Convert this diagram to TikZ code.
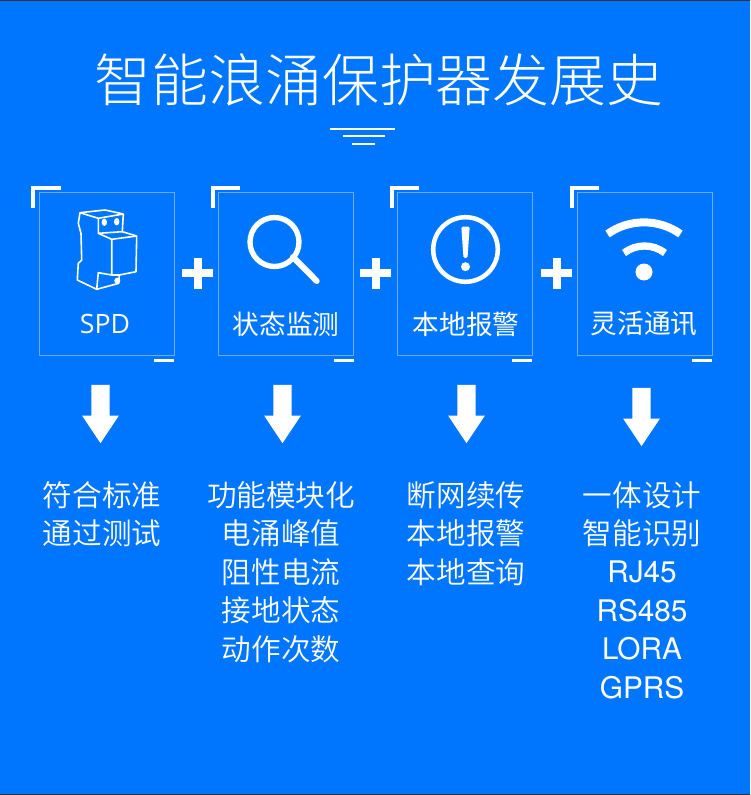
\documentclass[tikz,border=0pt]{standalone}
\usepackage{fontspec}
\setmainfont{Open Sans}
\newfontfamily\cjk{Noto Sans CJK SC Light}
\newfontfamily\cjkdemi{Noto Sans CJK SC DemiLight}
\newfontfamily\cjkreg{Noto Sans CJK SC}
\newfontfamily\latinlist{TeX Gyre Heros}
\usetikzlibrary{positioning}
\usetikzlibrary{shapes.arrows}
\usetikzlibrary{calc}
\definecolor{bgblue}{HTML}{0076FF}
\definecolor{boxline}{HTML}{66ACFF}
\tikzset{
    x=0.75pt,y=-0.75pt,
    titletext/.style={text=white,font=\fontsize{42.7}{50}\selectfont\cjk},
    cardbox/.style={draw=boxline,line width=0.75pt,minimum width=101.5pt,minimum height=122.2pt,inner sep=0pt},
    cardlabel/.style={text=white,inner sep=0pt,font=\fontsize{20}{24}\selectfont\cjkreg},
    listtext/.style={text=white,align=center,inner sep=0pt,font=\fontsize{22.2}{28.85}\selectfont\cjkdemi},
    downarrow/.style={shape=single arrow,fill=white,rotate=-90,inner xsep=0pt,inner ysep=6.6pt,outer sep=0pt,
        minimum height=43.7pt,minimum width=27.3pt,single arrow head extend=7pt,
        single arrow tip angle=67.4},
    plusbar/.style={draw=white,line width=6pt},
    markbar/.style={draw=white,line width=3pt},
    dashbar/.style={draw=white,line width=2.25pt},
    iconline/.style={draw=white,line width=1.2pt,line join=round}
}
\newcommand{\plussign}[1]{\draw[plusbar] ($(#1)+(-15.5,0)$) -- ++(31,0) ($(#1)+(0,-15.5)$) -- ++(0,31);}
\newcommand{\latinline}[1]{{\fontsize{22.3}{28.85}\selectfont\latinlist #1}}
\begin{document}
\begin{tikzpicture}
    \useasboundingbox[fill=bgblue] (0,0) rectangle (750,795);
    \fill[black!80] (0,0) rectangle (750,1) (0,794) rectangle (750,795);

    \node (title) [titletext] at (379,80) {智能浪涌保护器发展史};
    \draw[white,line width=1.5pt] (330,129) -- (395,129) (343,136) -- (385,136) (352,144) -- (375,144);

    % the four cards
    \node (spd)   [cardbox] at (106.8,273.8) {};
    \node (watch) [cardbox] at (286.3,273.8) {};
    \node (alarm) [cardbox] at (465,273.8) {};
    \node (comm)  [cardbox] at (645,273.8) {};

    \foreach \card in {spd,watch,alarm,comm} {
        \draw[markbar] ($(\card.north west)+(-5.3,16)$) -- ++(0,-20.3) -- ++(27.3,0);
        \draw[dashbar] ($(\card.south east)+(-20.7,5)$) -- ++(20,0);
    }

    \node (spdlabel)   [cardlabel] at (105,324) {\fontspec{Open Sans}SPD};
    \node (watchlabel) [cardlabel] at (286,324) {状态监测};
    \node (alarmlabel) [cardlabel] at (466,324) {本地报警};
    \node (commlabel)  [cardlabel] at (644,324) {灵活通讯};

    \plussign{197.5,273}
    \plussign{375.5,273}
    \plussign{556.5,273}

    % surge protector
    \draw[iconline] (80,212.7) -- (105,210) -- (123.3,214) -- (122.3,231.7) -- (136.7,236) -- (136,271.7) -- (119.3,275) -- (118.7,283.3) -- (96.7,289.3) -- (77.3,280) -- (78.3,263.3) -- (81.7,260) -- (81,233.3) -- (78.3,223.3) -- cycle;
    \draw[iconline] (80,212.7) -- (98.3,218.3) -- (123.3,214) (98.3,218.3) -- (98.3,233.3) -- (122.3,231.7) (98.3,233.3) -- (111.7,239.3) -- (136.7,236) (111.7,239.3) -- (111.7,275) -- (119.3,275) (111.7,275) -- (98.3,272.7) -- (96.7,289.3);
    \fill[white] (104.3,222.3) ellipse (2.7 and 3.7) (116.7,221.7) ellipse (2.7 and 3.7) (117.3,280.7) circle (3);

    % magnifier
    \draw[white,line width=4pt] (274.5,242) circle (24.5);
    \draw[white,line width=4.5pt,line cap=round] (293,257) -- (316.7,281);

    % exclamation mark
    \draw[white,line width=3.4pt] (465.5,249.5) circle (32.3);
    \fill[white,rounded corners=1pt] (461.3,226.7) -- (469.7,226.7) -- (467.5,258) -- (463.5,258) -- cycle;
    \fill[white] (465.5,266.7) circle (4.5);

    % wifi
    \fill[white] (644,272) circle (8.5);
    \draw[white,line width=6pt] (607.5,234) arc (-125.4:-54.6:63);
    \draw[white,line width=5.5pt] (624,253) arc (-127.7:-52.3:33.5);

    \node (arrowa) [downarrow] at (100.5,407.2) {};
    \node (arrowb) [downarrow] at (282.5,407.2) {};
    \node (arrowc) [downarrow] at (466.5,407.2) {};
    \node (arrowd) [downarrow] at (641.5,410.2) {};

    \node (lista) [listtext,anchor=north] at (102,481) {符合标准\\通过测试};
    \node (listb) [listtext,anchor=north] at (281,481) {功能模块化\\电涌峰值\\阻性电流\\接地状态\\动作次数};
    \node (listc) [listtext,anchor=north] at (466,481) {断网续传\\本地报警\\本地查询};
    \node (listd) [listtext,anchor=north] at (642,481) {一体设计\\智能识别\\\latinline{RJ45}\\\latinline{RS485}\\\latinline{LORA}\\\latinline{GPRS}};
\end{tikzpicture}
\end{document}
